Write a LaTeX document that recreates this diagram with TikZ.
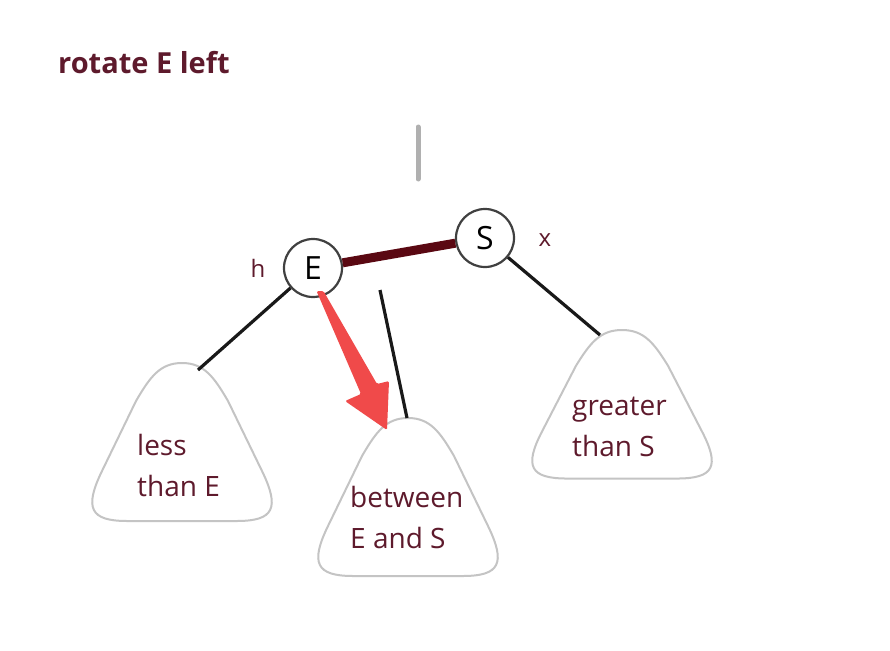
\documentclass[tikz,border=0pt]{standalone}
\usepackage{fontspec}
\setmainfont{Open Sans}
\usetikzlibrary{arrows.meta}
\definecolor{maroon}{HTML}{5E1A2C}
\definecolor{linkred}{HTML}{5A0812}
\definecolor{arrowred}{HTML}{F04A4A}
\definecolor{trigrey}{HTML}{C4C4C4}
\begin{document}
\begin{tikzpicture}[x=1pt,y=-1pt,
  keynode/.style={circle,draw=black!75,line width=2.2pt,fill=white,minimum size=58pt,inner sep=0pt,font=\fontsize{32}{32}\selectfont},
  subtree/.style={draw=trigrey,line width=2pt,fill=white},
  treelabel/.style={align=left,anchor=north west,text=maroon,inner sep=0pt,font=\fontsize{28}{41}\selectfont},
  childlink/.style={line width=3.2pt,black!90},
  sidelabel/.style={text=maroon,font=\fontsize{24}{24}\selectfont},
  blob/.pic={\draw[subtree] (0,0) .. controls (22,0) and (32,14) .. (46,38)
      -- (80,108) .. controls (98,145) and (92,158) .. (55,158)
      -- (-55,158) .. controls (-92,158) and (-98,145) .. (-80,108)
      -- (-46,38) .. controls (-32,14) and (-22,0) .. (0,0) -- cycle;}]
\useasboundingbox[fill=white] (0,0) rectangle (890,650);
% title
\node[anchor=base west,inner sep=0pt,text=maroon,font=\bfseries\fontsize{29}{29}\selectfont] (title) at (58,74) {rotate E left};
% grey link from parent
\coordinate (ptop) at (418,127);
\coordinate (pbot) at (418,179);
\draw[trigrey!90!black,line width=5pt,line cap=round] (ptop) -- (pbot);
% subtrees
\pic at (182,363) {blob};
\pic at (408,418) {blob};
\pic[yscale=0.94] at (622,330) {blob};
\coordinate (ltop) at (198,370);
\coordinate (mtop) at (407,418);
\coordinate (rtop) at (600,335);
\coordinate (dangle) at (380,290);
\node[treelabel] (lless) at (137,434) {less\\than E};
\node[treelabel] (lbetw) at (350,486) {between\\E and S};
\node[treelabel] (lgreat) at (572,397) {greater\\than S};
% keys
\node[keynode] (E) at (313,268) {E};
\node[keynode] (S) at (485,238) {S};
\draw[linkred,line width=9pt] (E) -- (S);
\draw[childlink] (E) -- (ltop);
\draw[childlink] (dangle) -- (mtop);
\draw[childlink] (S) -- (rtop);
\node[sidelabel] (h) at (258,268) {h};
\node[sidelabel] (x) at (545,240) {x};
% red arrow (tapered)
\coordinate (atail) at (320,291);
\coordinate (ahead) at (387,430);
\fill[arrowred,rounded corners=1.5pt] ([xshift=-3.5pt]atail) -- ([xshift=3.5pt]atail)
  -- (377,384) -- (389,381) -- (ahead) -- (345,401) -- (361,394) -- cycle;
\end{tikzpicture}
\end{document}
